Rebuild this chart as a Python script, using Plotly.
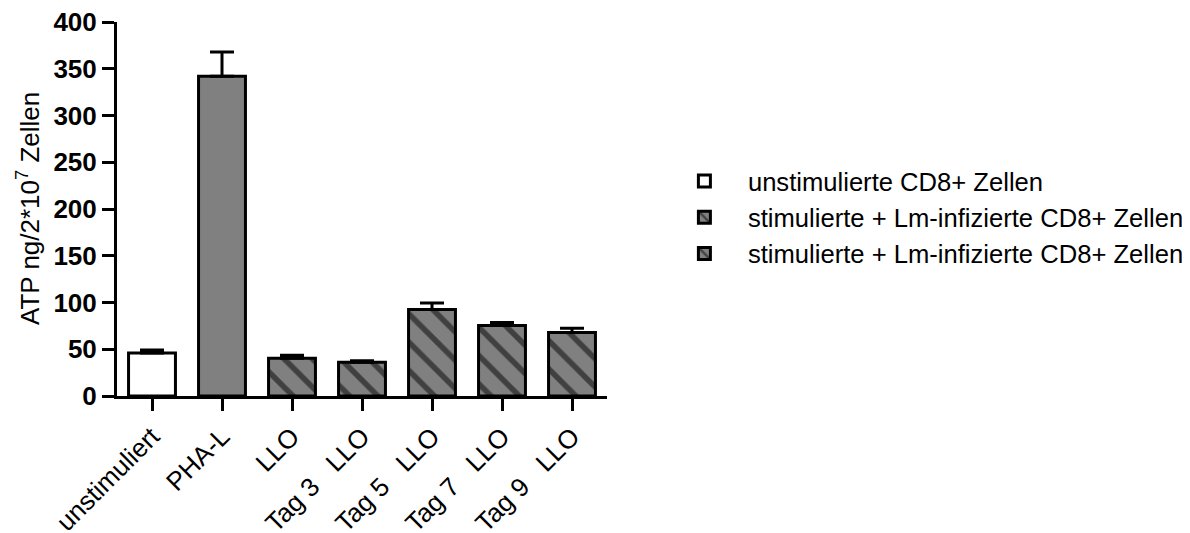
import plotly.graph_objects as go

# Data
categories = ["unstimuliert", "PHA-L", "LLO", "Tag 3\u00a0\u00a0 LLO", "Tag 5\u00a0\u00a0 LLO",
              "Tag 7\u00a0\u00a0 LLO", "Tag 9\u00a0\u00a0 LLO"]
unstim_x = ["unstimuliert"]
unstim_y = [46]
unstim_err = [3.2]
pha_x = ["PHA-L"]
pha_y = [342]
pha_err = [26]
llo_x = ["LLO", "Tag 3\u00a0\u00a0 LLO", "Tag 5\u00a0\u00a0 LLO", "Tag 7\u00a0\u00a0 LLO", "Tag 9\u00a0\u00a0 LLO"]
llo_y = [40.5, 36, 92.5, 75.5, 68]
llo_err = [3, 1.6, 7, 3, 4.5]
legend_names = ["unstimulierte CD8+ Zellen",
                "stimulierte + Lm-infizierte CD8+ Zellen",
                "stimulierte + Lm-infizierte CD8+ Zellen"]
y_ticks = [0, 50, 100, 150, 200, 250, 300, 350, 400]
y_title = "ATP ng/2*10<sup>7</sup> Zellen"

GRAY = "#808080"
FONT = "Liberation Sans, Arial, sans-serif"
BW = 0.67
HATCH = dict(shape="\\", fgcolor="black", bgcolor=GRAY, size=20, solidity=0.28)

def err(arr):
    return dict(type="data", array=arr, arrayminus=[0] * len(arr), symmetric=False,
                color="black", thickness=3, width=12)

fig = go.Figure()
fig.add_trace(go.Bar(x=unstim_x, y=unstim_y, width=BW, name=legend_names[0],
                     marker=dict(color="white", line=dict(color="black", width=3)),
                     error_y=err(unstim_err)))
fig.add_trace(go.Bar(x=pha_x, y=pha_y, width=BW, name=legend_names[1], showlegend=False,
                     marker=dict(color=GRAY, line=dict(color="black", width=3)),
                     error_y=err(pha_err)))
fig.add_trace(go.Bar(x=llo_x, y=llo_y, width=BW, name=legend_names[1],
                     marker=dict(color=GRAY, line=dict(color="black", width=3), pattern=HATCH),
                     error_y=err(llo_err)))
# second legend entry (same style as the infected series)
fig.add_trace(go.Bar(x=[None], y=[None], name=legend_names[2],
                     marker=dict(color=GRAY, line=dict(color="black", width=3), pattern=HATCH)))

# page body has an 8px margin; compensate so the plot sits where the reference does
L, T, PW, PH = 109, 14, 490, 374
fig.update_layout(
    width=1190, height=533,
    margin=dict(l=L, r=1190 - L - PW, t=T, b=533 - T - PH, autoexpand=False),
    plot_bgcolor="white", paper_bgcolor="white",
    barmode="overlay",
    font=dict(family=FONT, color="black"),
    showlegend=True,
    legend=dict(x=1.11, y=0.637, xanchor="left", yanchor="top",
                font=dict(size=25.6, family=FONT), itemwidth=77,
                bgcolor="rgba(0,0,0,0)"),
    xaxis=dict(type="category", categoryorder="array", categoryarray=categories,
               range=[-0.5, 6.5], showline=True, linecolor="black", linewidth=3,
               ticks="outside", ticklen=12, tickwidth=3, tickcolor="black",
               tickangle=-45, tickfont=dict(size=26, family=FONT),
               ticklabeloverflow="allow",
               showgrid=False, zeroline=False, automargin=False),
    yaxis=dict(range=[0, 400], tickvals=y_ticks, showline=True, linecolor="black", linewidth=3,
               ticks="outside", ticklen=12, tickwidth=3, tickcolor="black",
               tickfont=dict(size=26, family=FONT, weight="bold"),
               ticklabeloverflow="allow",
               showgrid=False, zeroline=False, automargin=False),
    annotations=[dict(text=y_title, xref="paper", yref="paper", x=-(117 - 28) / PW,
                      y=0.50, xanchor="center", yanchor="middle",
                      textangle=-90, showarrow=False, font=dict(size=26, family=FONT))],
)

fig.write_html("out.html")
